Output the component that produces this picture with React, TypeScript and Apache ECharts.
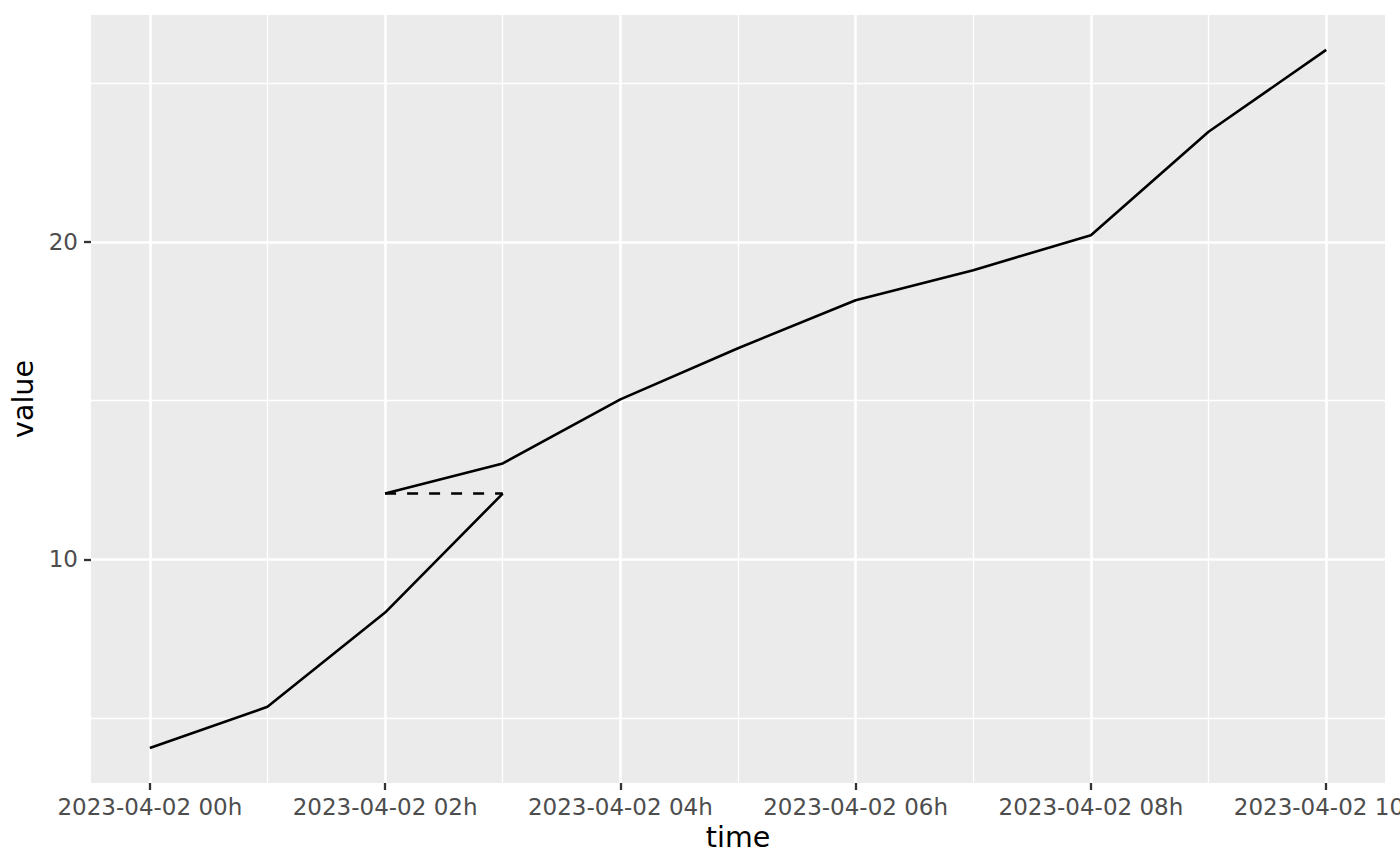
import React, { useEffect, useRef } from "react";
import * as echarts from "echarts";

// hours after 2023-04-02 00h
const lowerHours = [0, 1, 2, 3];
const lowerValues = [4.05, 5.35, 8.32, 12.07];

const dashedHours = [2, 3];
const dashedValues = [12.07, 12.07];

const upperHours = [2, 3, 4, 5, 6, 7, 8, 9, 10];
const upperValues = [12.07, 13.02, 15.04, 16.65, 18.16, 19.11, 20.21, 23.47, 26.05];

const xTickHours = [0, 2, 4, 6, 8, 10];
const xMinorHours = [1, 3, 5, 7, 9];
const yTickValues = [10, 20];
const yMinorValues = [5, 15, 25];

const datePrefix = "2023-04-02";
const xTitle = "time";
const yTitle = "value";

const FONT = "DejaVu Sans";

function zip(xs: number[], ys: number[]) {
  return xs.map((x, i) => [x, ys[i]]);
}

export default function App() {
  const ref = useRef<HTMLDivElement>(null);

  useEffect(() => {
    if (!ref.current) return;
    const chart = echarts.init(ref.current, undefined, { renderer: "svg" });

    const allX = [...lowerHours, ...upperHours];
    const allY = [...lowerValues, ...upperValues];
    const xMinD = Math.min(...allX);
    const xMaxD = Math.max(...allX);
    const yMinD = Math.min(...allY);
    const yMaxD = Math.max(...allY);
    const xPad = (xMaxD - xMinD) * 0.05;
    const yPad = (yMaxD - yMinD) * 0.05;

    const gridLine = (w: number) => ({ color: "#FFFFFF", width: w, type: "solid" as const });

    chart.setOption({
      animation: false,
      grid: {
        left: 91,
        right: 15,
        top: 15,
        bottom: 83,
        show: true,
        backgroundColor: "#EBEBEB",
        borderWidth: 0,
        containLabel: false,
        outerBoundsMode: "none",
      },
      xAxis: {
        type: "value",
        min: xMinD - xPad,
        max: xMaxD + xPad,
        splitLine: { show: false },
        axisLine: { show: false, onZero: false },
        axisTick: {
          show: true,
          customValues: xTickHours,
          length: 7,
          lineStyle: { color: "#333333", width: 2.3 },
        },
        axisLabel: {
          customValues: xTickHours,
          formatter: (v: number) => `${datePrefix} ${String(v).padStart(2, "0")}h`,
          color: "#4D4D4D",
          fontFamily: FONT,
          fontSize: 23,
          margin: 12,
          showMinLabel: true,
          showMaxLabel: true,
          hideOverlap: false,
        },
        name: xTitle,
        nameLocation: "middle",
        nameGap: 40,
        nameTextStyle: { color: "#000000", fontFamily: FONT, fontSize: 28.5 },
      },
      yAxis: {
        type: "value",
        min: yMinD - yPad,
        max: yMaxD + yPad,
        splitLine: { show: false },
        axisLine: { show: false, onZero: false },
        axisTick: {
          show: true,
          customValues: yTickValues,
          length: 7,
          lineStyle: { color: "#333333", width: 2.3 },
        },
        axisLabel: {
          customValues: yTickValues,
          color: "#4D4D4D",
          fontFamily: FONT,
          fontSize: 23,
          margin: 13,
        },
        name: yTitle,
        nameLocation: "middle",
        nameGap: 50,
        nameTextStyle: { color: "#000000", fontFamily: FONT, fontSize: 28.5 },
      },
      series: [
        {
          type: "line",
          data: [],
          z: 1,
          silent: true,
          markLine: {
            silent: true,
            z: 1,
            symbol: "none",
            label: { show: false },
            animation: false,
            data: [
              ...xMinorHours.map((v) => ({ xAxis: v, lineStyle: gridLine(1.3) })),
              ...yMinorValues.map((v) => ({ yAxis: v, lineStyle: gridLine(1.3) })),
              ...xTickHours.map((v) => ({ xAxis: v, lineStyle: gridLine(2.6) })),
              ...yTickValues.map((v) => ({ yAxis: v, lineStyle: gridLine(2.6) })),
            ],
          },
        },
        {
          type: "line",
          data: zip(lowerHours, lowerValues),
          z: 10,
          symbol: "none",
          lineStyle: { color: "#000000", width: 2.6 },
        },
        {
          type: "line",
          data: zip(dashedHours, dashedValues),
          z: 10,
          symbol: "none",
          lineStyle: { color: "#000000", width: 2.6, type: [11, 11], cap: "butt" },
        },
        {
          type: "line",
          data: zip(upperHours, upperValues),
          z: 10,
          symbol: "none",
          lineStyle: { color: "#000000", width: 2.6 },
        },
      ],
    });

    return () => chart.dispose();
  }, []);

  return (
    <div
      ref={ref}
      style={{ position: "absolute", left: 0, top: 0, width: 1400, height: 866, background: "#FFFFFF" }}
    />
  );
}
